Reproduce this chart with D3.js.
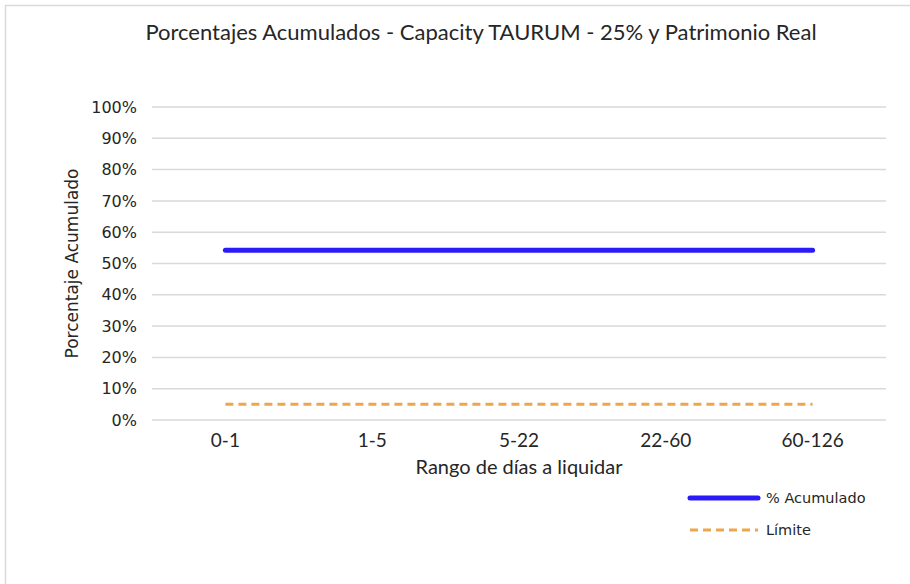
<!DOCTYPE html>
<html>
<head>
<meta charset="utf-8">
<script src="https://cdn.jsdelivr.net/npm/d3@7"></script>
<style>
  body { margin: 0; background: #fff; }
  svg { display: block; }
</style>
</head>
<body>
<div id="chart"></div>
<script>
// data
const categories = ['0-1', '1-5', '5-22', '22-60', '60-126'];
const acumulado = [0.542, 0.542, 0.542, 0.542, 0.542];
const limite = [0.05, 0.05, 0.05, 0.05, 0.05];
const yTicks = [0, 0.1, 0.2, 0.3, 0.4, 0.5, 0.6, 0.7, 0.8, 0.9, 1];

const width = 910, height = 584;
let margin = {top: 107, right: 24, bottom: 164, left: 152};
const narrow = 'Lato, sans-serif';
const wide = '"DejaVu Sans", sans-serif';

const svg = d3.select('#chart').append('svg')
  .attr('width', width)
  .attr('height', height);

// chart border
svg.append('rect')
  .attr('x', 5.5).attr('y', 5.5)
  .attr('width', width + 10).attr('height', height + 10)
  .attr('fill', '#fff')
  .attr('stroke', '#d9d9d9')
  .attr('stroke-width', 1.5);

let sx = d3.scaleBand().domain(categories).range([margin.left, width - margin.right]);
let sy = d3.scaleLinear().domain([0, 1]).range([height - margin.bottom, margin.top]);

// gridlines
svg.append('g')
  .selectAll('line')
  .data(yTicks)
  .join('line')
    .attr('x1', margin.left).attr('x2', width - margin.right)
    .attr('y1', d => sy(d)).attr('y2', d => sy(d))
    .attr('stroke', '#d9d9d9')
    .attr('stroke-width', 1.5);

// y axis labels
let yAxis = d3.axisLeft(sy).tickValues(yTicks).tickFormat(d3.format('.0%')).tickSize(0).tickPadding(0);
svg.append('g')
  .attr('transform', `translate(${margin.left - 15},0)`)
  .call(yAxis)
  .call(g => g.select('.domain').remove())
  .selectAll('text')
    .attr('font-family', wide)
    .attr('font-size', 16)
    .attr('fill', '#262626');

// x axis labels
let xAxis = d3.axisBottom(sx).tickSize(0).tickPadding(0);
svg.append('g')
  .attr('transform', `translate(0,${sy(0)})`)
  .call(xAxis)
  .call(g => g.select('.domain').remove())
  .selectAll('text')
    .attr('y', 27).attr('dy', 0)
    .attr('font-family', narrow)
    .attr('font-size', 19)
    .attr('fill', '#262626');

const cx = d => sx(d) + sx.bandwidth() / 2;

let line = d3.line()
  .x((d, i) => cx(categories[i]))
  .y(d => sy(d));

svg.append('path')
  .datum(limite)
  .attr('d', line)
  .attr('fill', 'none')
  .attr('stroke', '#EEA64C')
  .attr('stroke-width', 3)
  .attr('stroke-dasharray', '8,5');

svg.append('path')
  .datum(acumulado)
  .attr('d', line)
  .attr('fill', 'none')
  .attr('stroke', '#2B1BFA')
  .attr('stroke-width', 5)
  .attr('stroke-linecap', 'round');

// title
svg.append('text')
  .attr('x', 481).attr('y', 40)
  .attr('text-anchor', 'middle')
  .attr('font-family', narrow)
  .attr('font-size', 22)
  .attr('fill', '#262626')
  .text('Porcentajes Acumulados - Capacity TAURUM - 25% y Patrimonio Real');

// axis titles
svg.append('text')
  .attr('x', (margin.left + width - margin.right) / 2).attr('y', 474)
  .attr('text-anchor', 'middle')
  .attr('font-family', narrow)
  .attr('font-size', 20)
  .attr('fill', '#262626')
  .text('Rango de días a liquidar');

svg.append('text')
  .attr('transform', `translate(78,${sy(0.5)}) rotate(-90)`)
  .attr('text-anchor', 'middle')
  .attr('font-family', wide)
  .attr('font-size', 17)
  .attr('fill', '#262626')
  .text('Porcentaje Acumulado');

// legend
const legend = [
  {name: '% Acumulado', color: '#2B1BFA', w: 5, dash: null, cap: 'round'},
  {name: 'Límite', color: '#EEA64C', w: 3, dash: '8,5', cap: 'butt'}
];
let lg = svg.append('g').selectAll('g')
  .data(legend)
  .join('g')
    .attr('transform', (d, i) => `translate(690,${498 + i * 32})`);
lg.append('line')
  .attr('x1', 0).attr('x2', 68)
  .attr('stroke', d => d.color)
  .attr('stroke-width', d => d.w)
  .attr('stroke-dasharray', d => d.dash)
  .attr('stroke-linecap', d => d.cap);
lg.append('text')
  .attr('x', 76).attr('dy', '0.35em')
  .attr('font-family', wide)
  .attr('font-size', 14.5)
  .attr('fill', '#262626')
  .text(d => d.name);
</script>
</body>
</html>
